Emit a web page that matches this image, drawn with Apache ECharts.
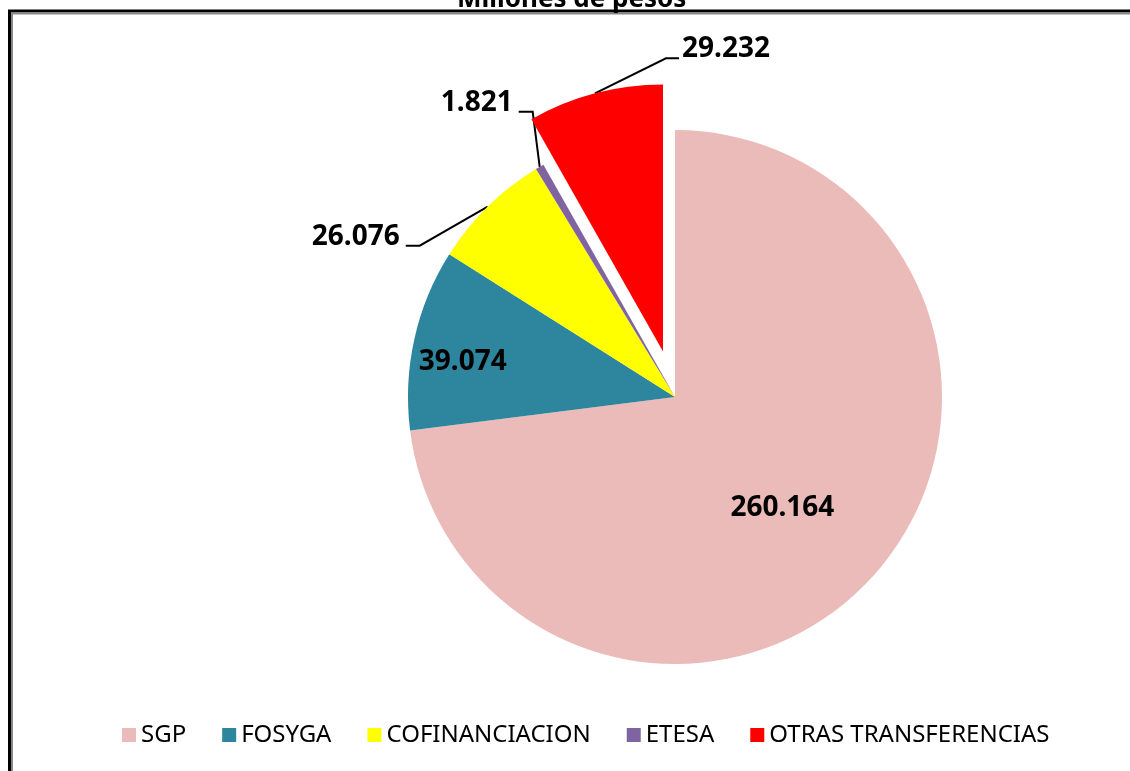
<!DOCTYPE html>
<html>
<head>
<meta charset="utf-8">
<title>Millones de pesos</title>
<script src="https://cdn.jsdelivr.net/npm/echarts@6/dist/echarts.min.js"></script>
<style>
    html, body { margin: 0; padding: 0; background: #fff; }
    #chart { width: 1130px; height: 771px; }
</style>
</head>
<body>
<div id="chart"></div>
<script>
    // millones de pesos
    var categories = ['SGP', 'FOSYGA', 'COFINANCIACION', 'ETESA', 'OTRAS TRANSFERENCIAS'];
    var values = [260164, 39074, 26076, 1821, 29232];
    var colors = ['#ebbbba', '#2d859e', '#ffff00', '#8064a2', '#ff0000'];
    var explodedIndex = 4;

    // where each label goes: inside ones get a nudge, outside ones a leader line
    var labelPlace = [
        { inside: true, dx: 5, dy: 21 },
        { inside: true, dx: -79, dy: -5 },
        { elbow: [-68, 39], run: -14 },
        { elbow: [-7, -55], run: -14 },
        { elbow: [71, -35], run: 13 }
    ];

    var center = [675, 397];
    var radius = 267;
    var explodeBy = 47;

    function fmt(v) {
        return String(v).replace(/\B(?=(\d{3})+(?!\d))/g, '.');
    }

    // direction of the exploded slice's middle, clockwise from 12 o'clock
    var total = values.reduce(function (s, v) { return s + v; }, 0);
    var before = values.slice(0, explodedIndex).reduce(function (s, v) { return s + v; }, 0);
    var mid = (before + values[explodedIndex] / 2) / total * 2 * Math.PI;
    var shiftedCenter = [center[0] + explodeBy * Math.sin(mid), center[1] - explodeBy * Math.cos(mid)];

    function buildData(showExploded) {
        return values.map(function (v, i) {
            var visible = showExploded ? i === explodedIndex : i !== explodedIndex;
            var item = {
                name: categories[i],
                value: v,
                itemStyle: { color: colors[i], opacity: visible ? 1 : 0 }
            };
            if (!visible) {
                item.label = { show: false };
                item.labelLine = { show: false };
            } else if (labelPlace[i].inside) {
                item.label = { position: 'inside' };
                item.labelLine = { show: false };
            }
            return item;
        });
    }

    function placeLabel(p) {
        var g = labelPlace[p.dataIndex];
        if (g.inside) {
            return { dx: g.dx, dy: g.dy };
        }
        if (!p.labelLinePoints) {
            return {};
        }
        var a = p.labelLinePoints[0];
        var elbow = [a[0] + g.elbow[0], a[1] + g.elbow[1]];
        var end = [elbow[0] + g.run, elbow[1]];
        return {
            x: end[0] + (g.run > 0 ? 3 : -6),
            y: end[1] - 9,
            align: g.run > 0 ? 'left' : 'right',
            verticalAlign: 'middle',
            labelLinePoints: [a, elbow, end]
        };
    }

    var pieBase = {
        type: 'pie',
        radius: radius,
        startAngle: 90,
        clockwise: true,
        avoidLabelOverlap: false,
        emphasis: { disabled: true },
        label: {
            show: true,
            position: 'outside',
            formatter: function (p) { return fmt(p.value); },
            fontFamily: 'Noto Sans',
            fontWeight: 'bold',
            fontSize: 28,
            color: '#000'
        },
        labelLine: {
            show: true,
            lineStyle: { color: '#000', width: 2 }
        },
        labelLayout: placeLabel
    };

    var myChart = echarts.init(document.getElementById('chart'));

    myChart.setOption({
        animation: false,
        backgroundColor: '#fff',
        title: {
            text: 'Millones de pesos',
            left: 452,
            top: -18,
            textStyle: {
                fontFamily: 'Noto Sans',
                fontWeight: 'bold',
                fontSize: 26,
                color: '#000'
            }
        },
        graphic: [{
            type: 'rect',
            shape: { x: 9.5, y: 11, width: 1300, height: 900 },
            style: { fill: 'none', stroke: '#000', lineWidth: 3 },
            silent: true
        }, {
            type: 'rect',
            shape: { x: 12, y: 13.5, width: 1300, height: 900 },
            style: { fill: 'none', stroke: '#888', lineWidth: 2 },
            silent: true
        }],
        legend: {
            data: categories.map(function (c, i) {
                return { name: c, itemStyle: { color: colors[i], opacity: 1 } };
            }),
            left: 117,
            top: 718,
            itemWidth: 14,
            itemHeight: 14,
            itemGap: 36,
            icon: 'rect',
            selectedMode: false,
            textStyle: {
                fontFamily: 'Noto Sans',
                fontSize: 24,
                color: '#000'
            }
        },
        series: [
            Object.assign({}, pieBase, {
                name: 'Millones de pesos',
                center: center,
                data: buildData(false)
            }),
            Object.assign({}, pieBase, {
                name: 'Millones de pesos (destacado)',
                center: shiftedCenter,
                data: buildData(true)
            })
        ]
    });
</script>
</body>
</html>
